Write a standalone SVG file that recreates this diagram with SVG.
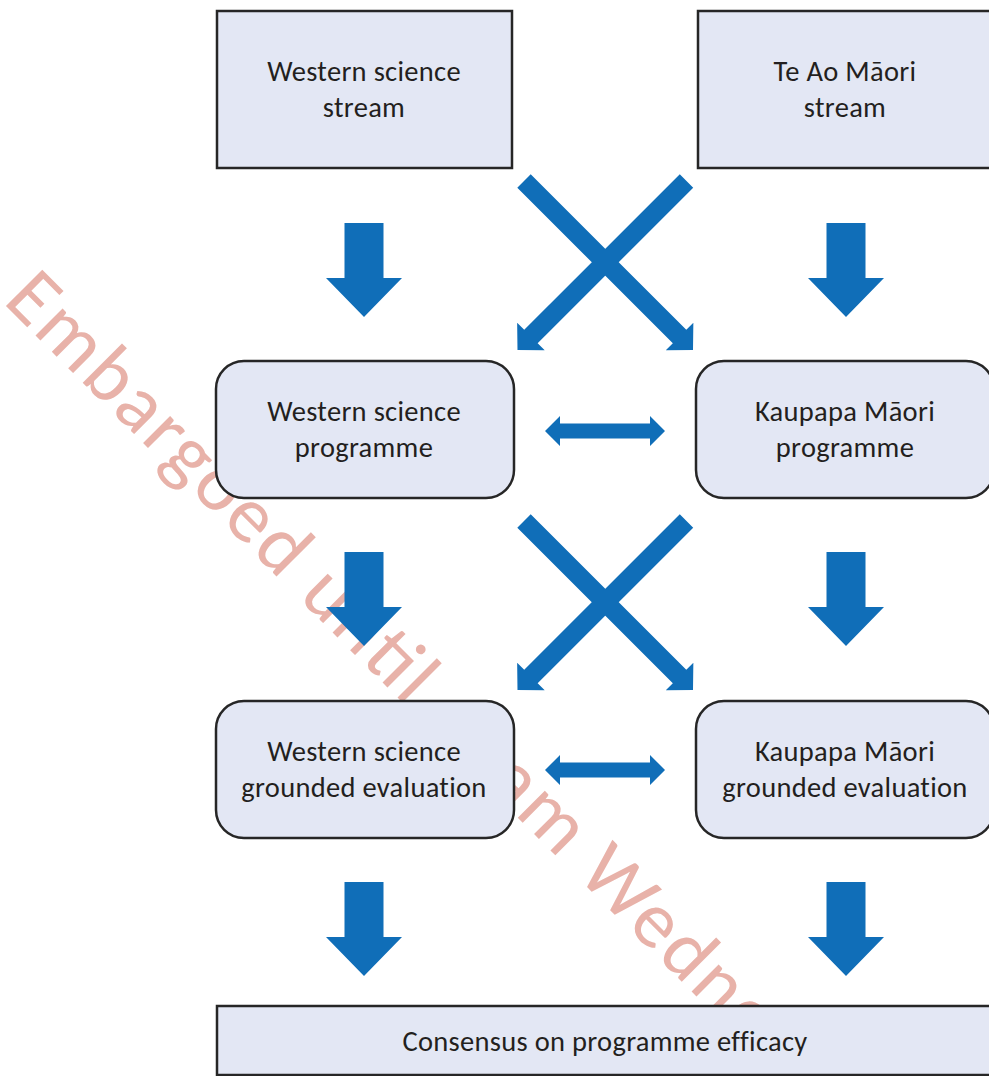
<svg xmlns="http://www.w3.org/2000/svg" width="989" height="1076" viewBox="0 0 989 1076">
<defs>
<style>
.box{fill:#E3E7F4;stroke:#262626;stroke-width:2.5}
.lbl{font-family:Carlito,Lato,"Open Sans",sans-serif;font-size:28.5px;letter-spacing:0.3px;fill:#231F20;text-anchor:middle}
.arr{fill:#106EB8}
.wm{font-family:Carlito,Lato,"Open Sans",sans-serif;font-size:80px;font-weight:300;fill:#E8B2A9}
</style>
<path id="down" d="M-19.5,0 H19.5 V55 H38 L0,94 L-38,55 H-19.5 Z"/>
<path id="diag" d="M0,-9.5 H220 V-19.5 L239,0 L220,19.5 V9.5 H0 Z"/>
</defs>
<rect width="989" height="1076" fill="#FFFFFF"/>
<g id="watermark">
<text class="wm" transform="translate(2,302) rotate(45)" x="0" y="0" textLength="1212" lengthAdjust="spacing">Embargoed until 10am Wednesday</text>
</g>
<g id="connectors" class="arr">
<use href="#down" transform="translate(364,223)"/>
<use href="#down" transform="translate(846,223)"/>
<use href="#down" transform="translate(364,552)"/>
<use href="#down" transform="translate(846,552)"/>
<use href="#down" transform="translate(364,882)"/>
<use href="#down" transform="translate(846,882)"/>
<use href="#diag" transform="translate(524,181) rotate(45)"/>
<use href="#diag" transform="translate(686.5,181) rotate(135)"/>
<use href="#diag" transform="translate(524,521) rotate(45)"/>
<use href="#diag" transform="translate(686.5,521) rotate(135)"/>
<path d="M545,431 L560,416 V423.5 H650 V416 L665,431 L650,446 V438.5 H560 V446 Z"/>
<path d="M545,770 L560,755 V762.5 H650 V755 L665,770 L650,785 V777.5 H560 V785 Z"/>
</g>
<g id="node-ws-stream">
<rect class="box" x="217" y="11" width="295" height="157"/>
<text class="lbl" x="364" y="81">Western science</text>
<text class="lbl" x="364" y="117">stream</text>
</g>
<g id="node-tam-stream">
<rect class="box" x="698" y="11" width="296" height="157"/>
<text class="lbl" x="845" y="81">Te Ao Māori</text>
<text class="lbl" x="845" y="117">stream</text>
</g>
<g id="node-ws-programme">
<rect class="box" x="216" y="361" width="298" height="137" rx="28"/>
<text class="lbl" x="364" y="421">Western science</text>
<text class="lbl" x="364" y="457">programme</text>
</g>
<g id="node-km-programme">
<rect class="box" x="696" y="361" width="298" height="137" rx="28"/>
<text class="lbl" x="845" y="421">Kaupapa Māori</text>
<text class="lbl" x="845" y="457">programme</text>
</g>
<g id="node-ws-evaluation">
<rect class="box" x="216" y="701" width="298" height="137" rx="28"/>
<text class="lbl" x="364" y="761">Western science</text>
<text class="lbl" x="364" y="797">grounded evaluation</text>
</g>
<g id="node-km-evaluation">
<rect class="box" x="696" y="701" width="298" height="137" rx="28"/>
<text class="lbl" x="845" y="761">Kaupapa Māori</text>
<text class="lbl" x="845" y="797">grounded evaluation</text>
</g>
<g id="node-consensus">
<rect class="box" x="217" y="1006" width="777" height="69"/>
<text class="lbl" x="605" y="1051">Consensus on programme efficacy</text>
</g>
</svg>
